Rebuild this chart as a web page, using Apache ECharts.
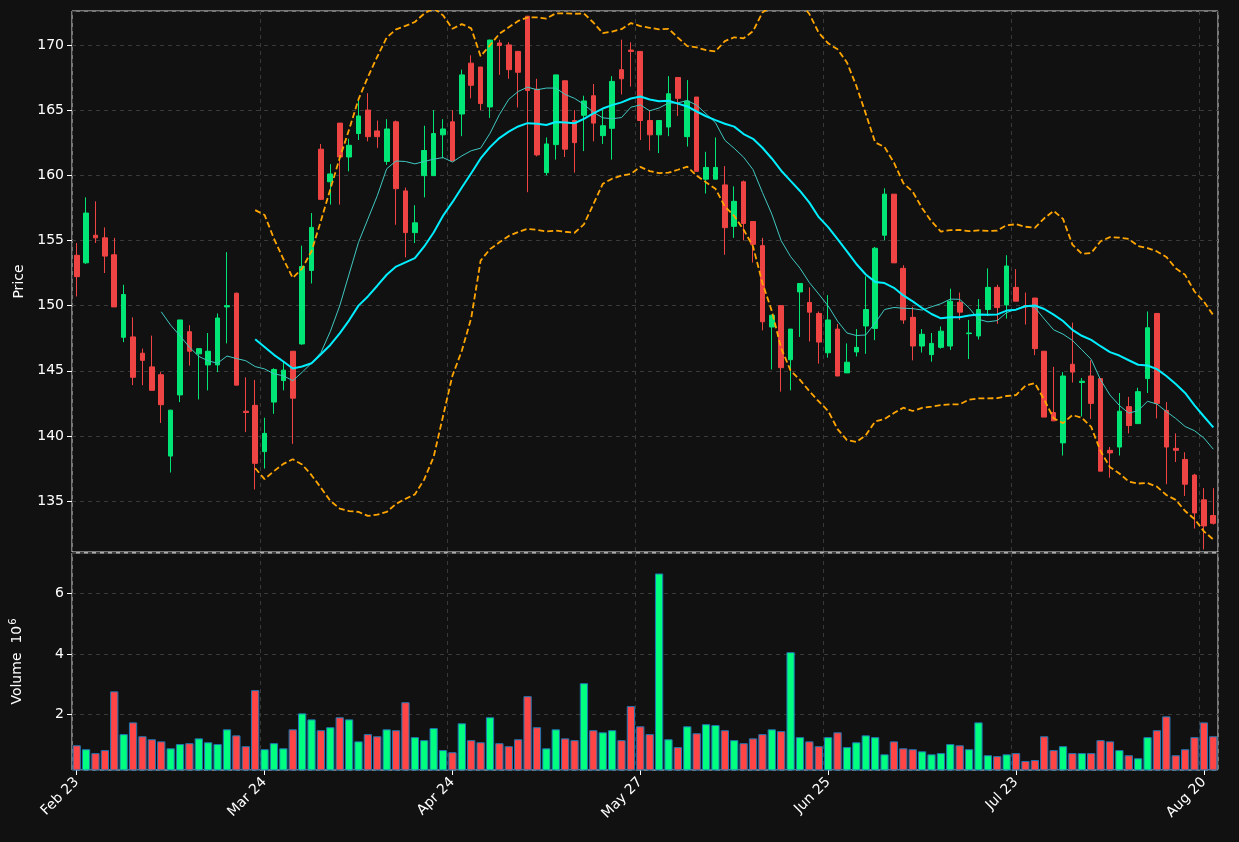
<!DOCTYPE html>
<html>
<head>
<meta charset="utf-8">
<script src="https://cdn.jsdelivr.net/npm/echarts@6/dist/echarts.min.js"></script>
<style>
  html, body { margin: 0; padding: 0; background: #111111; }
  #chart { width: 1239px; height: 842px; }
</style>
</head>
<body>
<div id="chart"></div>
<script>
// daily OHLC
const opens = [153.86,153.28,155.4,155.2,153.9,147.57,147.6,146.35,145.3,144.7,
  138.46,143.15,148.0,146.3,145.45,145.45,149.9,150.95,141.9,142.35,
  138.8,142.6,144.25,146.5,147.06,152.7,162.0,159.5,164.0,161.4,
  163.2,165.0,163.4,161.06,164.1,158.8,155.6,159.97,159.97,163.1,
  164.1,164.7,168.6,168.3,165.24,170.15,170.0,169.5,172.2,166.6,
  160.2,162.35,167.25,164.2,164.6,166.1,163.04,163.6,168.1,169.6,
  169.5,164.2,163.1,163.7,167.5,162.96,166.0,159.7,159.7,159.26,
  156.08,159.5,156.45,154.6,148.36,150.0,145.85,151.05,150.24,149.4,
  146.38,148.2,144.84,146.45,148.44,148.25,155.4,158.55,152.86,149.1,
  146.9,146.24,146.8,146.9,150.26,147.85,147.67,149.7,151.4,150.05,
  151.4,150.0,150.58,146.5,141.8,139.47,145.5,144.1,144.6,144.4,
  138.9,139.15,142.25,140.95,144.4,149.4,141.96,139.05,138.2,137.0,
  135.1,133.9];
const closes = [152.22,157.1,155.2,153.8,149.9,150.85,144.5,145.8,143.5,142.4,
  141.98,148.9,146.5,146.7,146.5,149.05,150.0,143.9,141.8,137.9,
  140.2,145.1,145.05,142.9,153.0,156.0,158.15,160.1,161.4,162.3,
  164.55,162.96,162.96,163.55,158.97,155.6,156.35,161.9,163.2,163.55,
  161.1,167.7,166.9,165.5,170.37,169.95,168.1,167.9,166.5,161.56,
  162.4,167.7,162.0,162.5,165.7,164.0,163.8,167.2,167.4,169.5,
  164.2,163.1,164.2,166.25,165.9,165.7,160.3,160.6,160.6,155.98,
  158.0,156.3,154.7,148.76,149.26,145.24,148.2,151.7,149.5,147.2,
  148.9,144.6,145.66,146.8,149.7,154.4,158.55,153.28,148.9,146.9,
  147.8,147.1,148.04,150.34,149.5,147.9,149.7,151.4,149.85,153.04,
  150.34,149.9,146.7,141.45,141.16,144.6,144.9,144.2,142.5,137.3,
  138.7,141.9,140.8,143.4,148.3,142.5,139.15,138.9,136.3,134.1,
  133.1,133.3];
const highs = [154.8,158.3,158.0,156.0,155.2,151.6,149.1,146.7,147.7,144.9,
  142.0,148.9,148.5,146.7,147.9,149.4,154.1,151.0,144.5,144.3,
  141.4,145.2,145.7,146.5,154.6,157.1,162.4,160.85,164.0,162.8,
  165.8,166.3,164.2,164.3,164.2,159.05,157.7,163.8,165.0,164.3,
  165.0,168.1,169.2,168.3,170.4,170.4,170.2,169.5,172.2,167.4,
  162.9,167.7,167.25,165.0,166.1,167.0,165.0,167.6,170.4,170.2,
  169.5,165.0,164.2,167.6,167.5,167.3,166.0,161.8,162.9,160.7,
  159.15,159.6,156.45,155.2,149.3,150.0,148.2,151.7,151.4,149.55,
  150.8,148.6,147.1,148.2,152.25,154.5,159.0,158.55,153.1,149.9,
  148.2,147.9,148.4,151.3,151.0,148.9,150.5,152.85,151.6,153.86,
  152.8,151.0,150.6,146.5,145.3,144.9,148.7,144.45,145.8,144.4,
  139.15,143.3,143.0,143.7,149.55,149.4,142.6,140.2,138.75,137.1,
  136.0,136.0];
const lows = [150.7,153.2,154.8,152.5,149.9,147.2,143.9,143.9,143.5,141.0,
  137.2,142.6,145.4,142.8,143.5,144.9,147.1,143.9,140.3,135.9,
  137.5,141.7,143.5,139.4,147.0,151.7,158.1,157.75,157.75,160.3,
  162.7,162.6,162.1,160.8,156.2,153.7,154.8,158.3,159.97,161.3,
  161.1,163.0,165.9,165.0,164.4,167.7,167.4,165.2,158.7,161.45,
  160.0,161.2,161.4,160.2,161.85,162.6,162.4,161.2,166.2,166.8,
  162.7,161.9,161.7,163.0,164.55,162.2,160.3,158.6,159.7,153.9,
  155.2,155.0,153.3,148.1,145.1,143.4,143.5,147.6,147.25,145.55,
  146.0,144.6,144.84,146.1,146.3,147.35,155.0,153.28,148.6,145.8,
  146.4,145.7,146.7,146.6,148.9,145.9,147.4,149.2,148.6,149.0,
  150.34,148.55,146.2,141.45,141.16,138.5,144.1,141.5,141.3,137.3,
  136.8,138.5,140.2,140.95,143.3,141.35,136.3,138.0,135.4,132.9,
  131.3,133.2];
// volume in millions
const volumes = [0.97,0.84,0.71,0.81,2.76,1.34,1.73,1.27,1.17,1.10,
  0.87,1.01,1.04,1.20,1.07,1.01,1.50,1.30,0.94,2.80,
  0.84,1.04,0.87,1.50,2.03,1.83,1.47,1.57,1.90,1.83,
  1.10,1.34,1.27,1.50,1.47,2.40,1.24,1.14,1.54,0.81,
  0.74,1.70,1.14,1.07,1.90,1.04,0.94,1.17,2.60,1.57,
  0.87,1.50,1.20,1.14,3.03,1.47,1.40,1.47,1.14,2.27,
  1.60,1.34,6.67,1.17,0.91,1.60,1.37,1.67,1.64,1.47,
  1.14,1.04,1.20,1.34,1.50,1.44,4.06,1.24,1.10,0.94,
  1.24,1.40,0.91,1.07,1.30,1.24,0.67,1.10,0.87,0.84,
  0.77,0.67,0.71,1.01,0.97,0.84,1.73,0.64,0.61,0.67,
  0.71,0.45,0.48,1.27,0.81,0.94,0.71,0.71,0.71,1.14,
  1.10,0.81,0.64,0.54,1.24,1.47,1.93,0.64,0.84,1.24,
  1.73,1.27];
const tickIndex = [0, 20, 40, 60, 80, 100, 120];
const tickLabels = ['Feb 23', 'Mar 24', 'Apr 24', 'May 27', 'Jun 25', 'Jul 23', 'Aug 20'];

const cats = closes.map((_, i) => String(i));

function sma(period) {
    return closes.map((_, i) => {
        if (i < period - 1) return '-';
        let s = 0;
        for (let j = i - period + 1; j <= i; j++) s += closes[j];
        return s / period;
    });
}
function band(period, k) {
    const mid = sma(period);
    return closes.map((_, i) => {
        if (i < period - 1) return ['-', '-'];
        let s = 0;
        for (let j = i - period + 1; j <= i; j++) s += (closes[j] - mid[i]) ** 2;
        const sd = Math.sqrt(s / (period - 1));
        return [mid[i] + k * sd, mid[i] - k * sd];
    });
}
const ma10 = sma(10);
const ma20 = sma(20);
const bb = band(20, 2);

const UP = '#00e676', DOWN = '#ef4444';
const candles = opens.map((o, i) => [o, closes[i], lows[i], highs[i]]);
const volBars = volumes.map((v, i) => ({
    value: v,
    itemStyle: { color: closes[i] >= opens[i] ? '#00ff80' : '#ff4545' }
}));

const isTick = (i) => tickIndex.indexOf(Number(i)) >= 0;
const txt = { color: '#ffffff', fontFamily: 'DejaVu Sans', fontSize: 14 };
const gridLine = { show: true, lineStyle: { color: '#3a3a3a', type: [4, 4], width: 1 } };

const myChart = echarts.init(document.getElementById('chart'));
myChart.setOption({
    backgroundColor: '#111111',
    animation: false,
    grid: [
        { left: 72, right: 21, top: 11, height: 541, show: true, borderColor: '#e0e0e0', borderWidth: 1 },
        { left: 72, right: 21, top: 553, height: 217, show: true, borderColor: '#e0e0e0', borderWidth: 1 }
    ],
    xAxis: [
        {
            type: 'category', data: cats, gridIndex: 0, boundaryGap: true,
            axisLine: { show: false }, axisTick: { show: false }, axisLabel: { show: false },
            splitLine: Object.assign({ interval: (i) => isTick(i) }, gridLine)
        },
        {
            type: 'category', data: cats, gridIndex: 1, boundaryGap: true,
            axisLine: { show: false },
            axisTick: { show: true, interval: (i) => isTick(i), alignWithLabel: true, length: 5, lineStyle: { color: '#ffffff' } },
            axisLabel: Object.assign({
                interval: (i) => isTick(i), rotate: 45, margin: 10,
                formatter: (v) => tickLabels[tickIndex.indexOf(Number(v))] || ''
            }, txt),
            splitLine: Object.assign({ interval: (i) => isTick(i) }, gridLine)
        }
    ],
    yAxis: [
        {
            type: 'value', gridIndex: 0, min: 131.1, max: 172.6, splitNumber: 8,
            name: 'Price', nameLocation: 'middle', nameGap: 46, nameRotate: 90, nameTextStyle: txt,
            axisLine: { show: false },
            axisTick: { show: true, length: 5, lineStyle: { color: '#ffffff' } },
            axisLabel: Object.assign({ showMinLabel: false, showMaxLabel: false }, txt),
            splitLine: gridLine
        },
        {
            type: 'value', gridIndex: 1, min: 0.15, max: 7.35, splitNumber: 3,
            name: '{a|Volume  10}{s|6}', nameLocation: 'middle', nameGap: 46, nameRotate: 90,
            nameTextStyle: {
                rich: {
                    a: { color: '#ffffff', fontFamily: 'DejaVu Sans', fontSize: 14 },
                    s: { color: '#ffffff', fontFamily: 'DejaVu Sans', fontSize: 10, verticalAlign: 'top', padding: [0, 0, 8, 1] }
                }
            },
            axisLine: { show: false },
            axisTick: { show: true, length: 5, lineStyle: { color: '#ffffff' } },
            axisLabel: Object.assign({ showMinLabel: false, showMaxLabel: false }, txt),
            splitLine: gridLine
        }
    ],
    series: [
        {
            type: 'candlestick', xAxisIndex: 0, yAxisIndex: 0, data: candles, barWidth: '55%',
            itemStyle: { color: UP, color0: DOWN, borderColor: UP, borderColor0: DOWN, borderWidth: 1 }
        },
        {
            type: 'line', xAxisIndex: 0, yAxisIndex: 0, data: ma10, showSymbol: false,
            lineStyle: { color: '#3fc8c0', width: 1 }
        },
        {
            type: 'line', xAxisIndex: 0, yAxisIndex: 0, data: ma20, showSymbol: false,
            lineStyle: { color: '#00eeff', width: 2 }
        },
        {
            type: 'line', xAxisIndex: 0, yAxisIndex: 0, data: bb.map(b => b[0]), showSymbol: false,
            lineStyle: { color: '#ffa500', width: 1.8, type: [6, 3] }
        },
        {
            type: 'line', xAxisIndex: 0, yAxisIndex: 0, data: bb.map(b => b[1]), showSymbol: false,
            lineStyle: { color: '#ffa500', width: 1.8, type: [6, 3] }
        },
        {
            type: 'bar', xAxisIndex: 1, yAxisIndex: 1, data: volBars, barWidth: '88%',
            itemStyle: { borderColor: '#1f77b4', borderWidth: 1 }
        }
    ]
});
</script>
</body>
</html>
